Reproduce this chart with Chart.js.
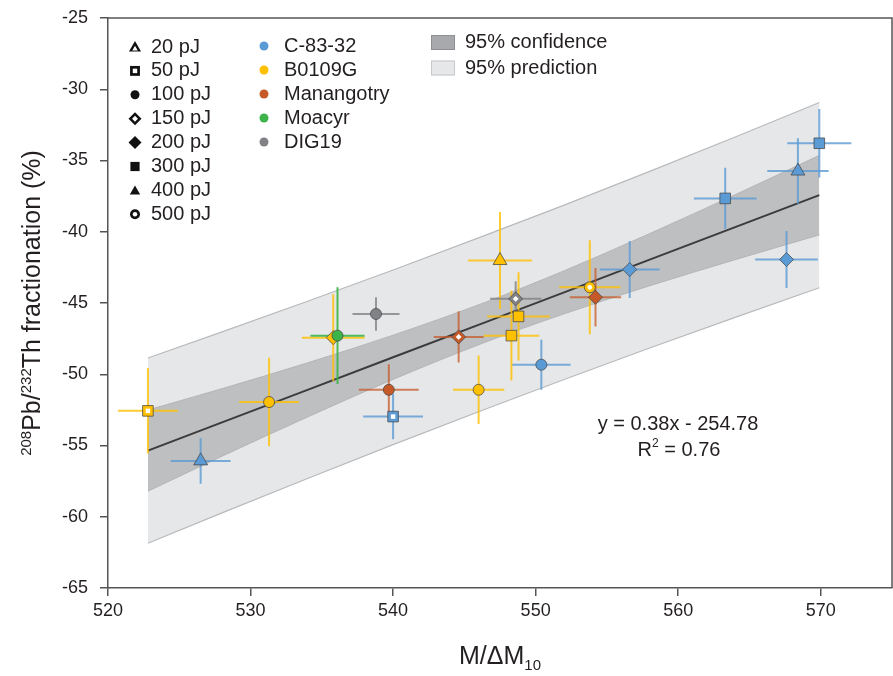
<!DOCTYPE html>
<html>
<head>
<meta charset="utf-8">
<script src="https://cdn.jsdelivr.net/npm/chart.js@4.4.0/dist/chart.umd.min.js"></script>
<style>
html, body { margin: 0; background: #fff; overflow: hidden; }
#wrap { width: 901px; height: 676px; position: relative; }
</style>
</head>
<body>
<div id="wrap"><canvas id="chart"></canvas></div>
<script>
// axis ticks
var xTicks = [520, 530, 540, 550, 560, 570];
var yTicks = [-25, -30, -35, -40, -45, -50, -55, -60, -65];

// regression line and bands
var bandX   = [522.8, 528, 534, 540, 546.5, 552, 558, 564, 569.9];
var fitY    = [-55.36, -53.38, -51.10, -48.81, -46.34, -44.25, -41.96, -39.68, -37.43];
var confHi  = [-52.51, -51.01, -49.20, -47.26, -44.94, -42.74, -40.13, -37.40, -34.64];
var confLo  = [-58.21, -55.75, -53.00, -50.36, -47.74, -45.76, -43.79, -41.96, -40.22];
var predHi  = [-48.86, -47.03, -44.88, -42.68, -40.24, -38.13, -35.76, -33.35, -30.93];
var predLo  = [-61.86, -59.73, -57.32, -54.94, -52.44, -50.37, -48.16, -46.01, -43.93];

// C-83-32
var c83X    = [526.5, 540.0, 550.4, 556.6, 567.6, 563.3, 568.4, 569.9];
var c83Y    = [-56.08, -52.97, -49.33, -42.65, -41.95, -37.66, -35.74, -33.79];
var c83Xerr = [2.1, 2.1, 2.05, 2.1, 2.2, 2.2, 2.15, 2.25];
var c83Yerr = [1.6, 1.6, 1.75, 2.0, 2.0, 2.15, 2.3, 2.4];
var c83E    = ['20 pJ', '50 pJ', '100 pJ', '200 pJ', '200 pJ', '300 pJ', '400 pJ', '300 pJ'];

// B0109G
var b01X    = [522.8, 531.3, 535.8, 547.5, 548.8, 548.3, 546.0, 553.8];
var b01Y    = [-52.57, -51.95, -47.43, -42.02, -45.94, -47.29, -51.09, -43.9];
var b01Xerr = [2.1, 2.1, 2.2, 2.25, 2.2, 1.95, 1.8, 2.15];
var b01Yerr = [3.0, 3.1, 3.05, 3.4, 3.1, 3.15, 2.4, 3.3];
var b01E    = ['50 pJ', '100 pJ', '200 pJ', '20 pJ', '300 pJ', '300 pJ', '100 pJ', '500 pJ'];

// Manangotry
var manX    = [539.7, 544.6, 554.2];
var manY    = [-51.09, -47.38, -44.6];
var manXerr = [2.1, 1.75, 1.8];
var manYerr = [1.8, 1.8, 2.05];
var manE    = ['100 pJ', '150 pJ', '200 pJ'];

// Moacyr
var moaX    = [536.1];
var moaY    = [-47.29];
var moaXerr = [1.9];
var moaYerr = [3.4];
var moaE    = ['100 pJ'];

// DIG19
var digX    = [538.8, 548.6];
var digY    = [-45.77, -44.71];
var digXerr = [1.65, 1.8];
var digYerr = [1.17, 1.23];
var digE    = ['100 pJ', '150 pJ'];

var energyNames = ['20 pJ', '50 pJ', '100 pJ', '150 pJ', '200 pJ', '300 pJ', '400 pJ', '500 pJ'];
var sampleNames = ['C-83-32', 'B0109G', 'Manangotry', 'Moacyr', 'DIG19'];
var bandNames = ['95% confidence', '95% prediction'];

var FONT = "'Liberation Sans', Arial, Helvetica, sans-serif";
var TXT = '#231f20';

// marker look for each energy
var markers = {
  '20 pJ':  { style: 'triangle', r: 8,   open: false },
  '50 pJ':  { style: 'rect',     r: 7.5, open: true },
  '100 pJ': { style: 'circle',   r: 5.5, open: false },
  '150 pJ': { style: 'rectRot',  r: 7,   open: true },
  '200 pJ': { style: 'rectRot',  r: 7,   open: false },
  '300 pJ': { style: 'rect',     r: 7.5, open: false },
  '400 pJ': { style: 'triangle', r: 8,   open: false },
  '500 pJ': { style: 'circle',   r: 5.5, open: true }
};

var colors = ['#5b9bd5', '#ffc000', '#c55a28', '#3cb44a', '#808285'];
var barColors = ['rgba(91,155,213,0.8)', 'rgba(255,192,0,0.8)', 'rgba(197,90,40,0.75)', 'rgba(60,180,74,0.9)', 'rgba(128,130,133,0.8)'];

var samples = [
  { x: c83X, y: c83Y, xe: c83Xerr, ye: c83Yerr, e: c83E },
  { x: b01X, y: b01Y, xe: b01Xerr, ye: b01Yerr, e: b01E },
  { x: manX, y: manY, xe: manXerr, ye: manYerr, e: manE },
  { x: moaX, y: moaY, xe: moaXerr, ye: moaYerr, e: moaE },
  { x: digX, y: digY, xe: digXerr, ye: digYerr, e: digE }
];

function pts(xs, ys) {
  return xs.map(function (v, i) { return { x: v, y: ys[i] }; });
}

var datasets = [
  { data: pts(bandX, predHi), borderColor: '#b9babc', borderWidth: 1.2, backgroundColor: '#e6e7e8', fill: '+1', pointRadius: 0, order: 10 },
  { data: pts(bandX, predLo), borderColor: '#b9babc', borderWidth: 1.2, fill: false, pointRadius: 0, order: 9 },
  { data: pts(bandX, confHi), borderColor: '#b4b5b7', borderWidth: 1, backgroundColor: '#bebfc1', fill: '+1', pointRadius: 0, cubicInterpolationMode: 'monotone', order: 8 },
  { data: pts(bandX, confLo), borderColor: '#b4b5b7', borderWidth: 1, fill: false, pointRadius: 0, cubicInterpolationMode: 'monotone', order: 7 },
  { data: pts(bandX, fitY), borderColor: '#3b3b3c', borderWidth: 2, fill: false, pointRadius: 0, order: 6 }
];
var FIT = 4;
var FIRST_SAMPLE = 5;

samples.forEach(function (s, k) {
  datasets.push({
    label: sampleNames[k],
    data: pts(s.x, s.y),
    showLine: false,
    pointStyle: s.e.map(function (e) { return markers[e].style; }),
    pointRadius: s.e.map(function (e) { return markers[e].r; }),
    pointBackgroundColor: colors[k],
    pointBorderColor: 'rgba(70,70,70,0.75)',
    pointBorderWidth: 1,
    order: 5 - k
  });
});

var drawPlugin = {
  id: 'drawExtras',
  afterDatasetDraw: function (chart, args) {
    var ctx = chart.ctx;
    var xs = chart.scales.x, ys = chart.scales.y;
    if (args.index === FIT) {
      // error bars, drawn above bands and below markers
      ctx.save();
      ctx.lineWidth = 2;
      samples.forEach(function (s, k) {
        ctx.strokeStyle = barColors[k];
        s.x.forEach(function (xv, i) {
          var px = xs.getPixelForValue(xv), py = ys.getPixelForValue(s.y[i]);
          ctx.beginPath();
          ctx.moveTo(xs.getPixelForValue(xv - s.xe[i]), py);
          ctx.lineTo(xs.getPixelForValue(xv + s.xe[i]), py);
          ctx.moveTo(px, ys.getPixelForValue(s.y[i] - s.ye[i]));
          ctx.lineTo(px, ys.getPixelForValue(s.y[i] + s.ye[i]));
          ctx.stroke();
        });
      });
      ctx.restore();
    }
    var k = args.index - FIRST_SAMPLE;
    if (k >= 0) {
      var s = samples[k];
      ctx.save();
      ctx.fillStyle = '#ffffff';
      s.e.forEach(function (e, i) {
        var m = markers[e];
        if (!m.open) return;
        Chart.helpers.drawPoint(ctx, { pointStyle: m.style, radius: m.r * 0.42, rotation: 0, borderWidth: 0 },
          xs.getPixelForValue(s.x[i]), ys.getPixelForValue(s.y[i]));
      });
      ctx.restore();
    }
  },
  afterDraw: function (chart) {
    var ctx = chart.ctx;
    var a = chart.chartArea;
    ctx.save();
    // frame top and right
    ctx.strokeStyle = '#555';
    ctx.lineWidth = 1.5;
    ctx.beginPath();
    ctx.moveTo(a.left, a.top);
    ctx.lineTo(a.right, a.top);
    ctx.lineTo(a.right, a.bottom);
    ctx.stroke();

    ctx.fillStyle = TXT;
    ctx.textBaseline = 'middle';
    ctx.textAlign = 'left';

    // legend column 1: energies
    var legOpen = { '20 pJ': true, '50 pJ': true, '150 pJ': true, '500 pJ': true };
    var legR = { '20 pJ': 7, '50 pJ': 7, '100 pJ': 4.5, '150 pJ': 6.5, '200 pJ': 6.5, '300 pJ': 6.5, '400 pJ': 6, '500 pJ': 5 };
    ctx.font = '20px ' + FONT;
    energyNames.forEach(function (e, i) {
      var y = 47 + i * 23.9;
      var m = markers[e];
      ctx.fillStyle = '#111';
      Chart.helpers.drawPoint(ctx, { pointStyle: m.style, radius: legR[e], rotation: 0, borderWidth: 0 }, 135, y + (m.style === 'triangle' ? 1 : 0));
      if (legOpen[e]) {
        ctx.fillStyle = '#fff';
        Chart.helpers.drawPoint(ctx, { pointStyle: m.style, radius: legR[e] * 0.45, rotation: 0, borderWidth: 0 }, 135, y + (m.style === 'triangle' ? 2 : 0));
      }
      ctx.fillStyle = TXT;
      ctx.fillText(e, 151, y);
    });

    // legend column 2: samples
    sampleNames.forEach(function (n, i) {
      var y = 46 + i * 24;
      ctx.fillStyle = colors[i];
      ctx.beginPath();
      ctx.arc(264, y, 4.5, 0, Math.PI * 2);
      ctx.fill();
      ctx.fillStyle = TXT;
      ctx.fillText(n, 284, y);
    });

    // legend column 3: bands
    var sw = [['#a7a9ac', '#8d8f92'], ['#e6e7e8', '#c7c8ca']];
    bandNames.forEach(function (n, i) {
      var y = 42.5 + i * 25.5;
      ctx.fillStyle = sw[i][0];
      ctx.fillRect(431, y - 7.5, 24, 15);
      ctx.strokeStyle = sw[i][1];
      ctx.lineWidth = 1;
      ctx.strokeRect(431.5, y - 7, 23, 14);
      ctx.fillStyle = TXT;
      ctx.fillText(n, 465, y);
    });

    // equation
    ctx.textAlign = 'center';
    ctx.font = '20px ' + FONT;
    ctx.fillText('y = 0.38x - 254.78', 678, 424);
    var r1 = 'R', r2 = '2', r3 = ' = 0.76';
    ctx.font = '20px ' + FONT;
    var w1 = ctx.measureText(r1).width, w3 = ctx.measureText(r3).width;
    ctx.font = '12px ' + FONT;
    var w2 = ctx.measureText(r2).width;
    var sx = 679 - (w1 + w2 + w3) / 2;
    ctx.textAlign = 'left';
    ctx.font = '20px ' + FONT;
    ctx.fillText(r1, sx, 450);
    ctx.fillText(r3, sx + w1 + w2, 450);
    ctx.font = '12px ' + FONT;
    ctx.fillText(r2, sx + w1, 444);

    // x title M/ΔM10
    ctx.textBaseline = 'alphabetic';
    ctx.font = '25px ' + FONT;
    var m1 = 'M/\u0394M';
    var wm = ctx.measureText(m1).width;
    ctx.font = '15px ' + FONT;
    var ws = ctx.measureText('10').width;
    var tx = (a.left + a.right) / 2 - (wm + ws) / 2;
    ctx.font = '25px ' + FONT;
    ctx.fillText(m1, tx, 664);
    ctx.font = '15px ' + FONT;
    ctx.fillText('10', tx + wm, 670);

    // y title 208Pb/232Th fractionation (%)
    var parts = [['208', true], ['Pb/', false], ['232', true], ['Th fractionation (%)', false]];
    var total = 0;
    parts.forEach(function (p) {
      ctx.font = (p[1] ? '15px ' : '25px ') + FONT;
      p.w = ctx.measureText(p[0]).width;
      total += p.w;
    });
    ctx.translate(40, (a.top + a.bottom) / 2);
    ctx.rotate(-Math.PI / 2);
    var cx = -total / 2;
    parts.forEach(function (p) {
      ctx.font = (p[1] ? '15px ' : '25px ') + FONT;
      ctx.fillText(p[0], cx, p[1] ? -9 : 0);
      cx += p.w;
    });
    ctx.restore();
  }
};

new Chart(document.getElementById('chart'), {
  type: 'line',
  data: { datasets: datasets },
  plugins: [drawPlugin],
  options: {
    responsive: true,
    maintainAspectRatio: false,
    animation: false,
    layout: { padding: { top: 18, right: 0, left: 0, bottom: 0 } },
    plugins: { legend: { display: false }, tooltip: { enabled: false } },
    scales: {
      x: {
        type: 'linear',
        min: 520,
        max: 575,
        afterBuildTicks: function (axis) { axis.ticks = xTicks.map(function (v) { return { value: v }; }); },
        afterFit: function (axis) { axis.height = 88; axis.paddingLeft = 0; axis.paddingRight = 0; },
        grid: { drawOnChartArea: false, tickLength: 8, color: '#555', lineWidth: 1.5 },
        border: { color: '#555', width: 1.5 },
        ticks: { font: { family: FONT, size: 18 }, color: TXT, padding: 4, maxRotation: 0 }
      },
      y: {
        type: 'linear',
        min: -65,
        max: -25,
        afterBuildTicks: function (axis) { axis.ticks = yTicks.map(function (v) { return { value: v }; }); },
        afterFit: function (axis) { axis.width = 108; axis.paddingTop = 0; axis.paddingBottom = 0; },
        grid: { drawOnChartArea: false, tickLength: 8, color: '#555', lineWidth: 1.5 },
        border: { color: '#555', width: 1.5 },
        ticks: { font: { family: FONT, size: 18 }, color: TXT, padding: 12 }
      }
    }
  }
});
</script>
</body>
</html>
